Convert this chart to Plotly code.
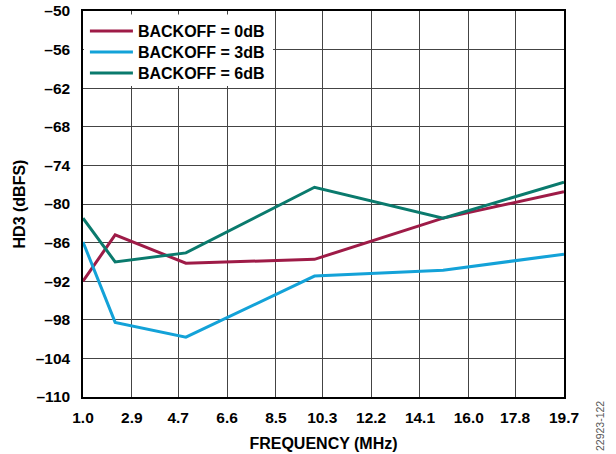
import plotly.graph_objects as go

freq = [1.0, 2.25, 5.0, 10.0, 15.0, 19.7]
backoff_0db = [-92.0, -84.8, -89.2, -88.6, -82.2, -78.1]
backoff_3db = [-85.9, -98.4, -100.7, -91.2, -90.3, -87.8]
backoff_6db = [-82.2, -89.0, -87.6, -77.4, -82.2, -76.6]
x_ticks = [1.0, 2.9, 4.7, 6.6, 8.5, 10.3, 12.2, 14.1, 16.0, 17.8, 19.7]
y_ticks = [-50, -56, -62, -68, -74, -80, -86, -92, -98, -104, -110]

series = [
    ("BACKOFF = 0dB", backoff_0db, "#9E1B47"),
    ("BACKOFF = 3dB", backoff_3db, "#13A2D8"),
    ("BACKOFF = 6dB", backoff_6db, "#0A7A6D"),
]

FAM = "Liberation Sans, Arial, sans-serif"
legend_ids = ["legend", "legend2", "legend3"]
legend_rows_y = [0.9482, 0.8938, 0.8394]

fig = go.Figure()
for (name, vals, col), lid in zip(series, legend_ids):
    fig.add_trace(go.Scatter(x=freq, y=vals, mode="lines", name=name, legend=lid,
                             line=dict(color=col, width=3)))

legend_common = dict(x=0.004, xanchor="left", yanchor="middle",
                     bgcolor="rgba(0,0,0,0)", borderwidth=0,
                     font=dict(family=FAM, size=16, color="black", weight="bold"),
                     itemwidth=43)

# white legend background panel (covers the grid behind the legend)
fig.add_shape(type="rect", xref="paper", yref="paper", x0=0.002, x1=0.395,
              y0=0.806, y1=0.991, fillcolor="white", line=dict(width=0), layer="above")

fig.update_layout(
    width=616, height=454,
    margin=dict(l=83, r=52, t=11, b=57, autoexpand=False),
    paper_bgcolor="white", plot_bgcolor="white",
    font=dict(family=FAM, size=15.5, color="black"),
    showlegend=True,
    legend=dict(y=legend_rows_y[0], **legend_common),
    legend2=dict(y=legend_rows_y[1], **legend_common),
    legend3=dict(y=legend_rows_y[2], **legend_common),
    xaxis=dict(range=[1.0, 19.7], tickvals=x_ticks,
               ticktext=[f"{v:.1f}" for v in x_ticks],
               showgrid=True, gridcolor="#444", gridwidth=1,
               showline=True, linecolor="black", linewidth=1.5, mirror=True,
               ticks="", zeroline=False, ticklabelstandoff=6,
               tickfont=dict(family=FAM, size=15.5, weight="bold"),
               title=dict(text="FREQUENCY (MHz)", font=dict(family=FAM, size=16, weight="bold"), standoff=12)),
    yaxis=dict(range=[-110, -50], tickvals=y_ticks,
               ticktext=[str(v).replace("-", "\u2013") for v in y_ticks],
               showgrid=True, gridcolor="#444", gridwidth=1,
               showline=True, linecolor="black", linewidth=1.5, mirror=True,
               ticks="", zeroline=False, ticklabelstandoff=8,
               tickfont=dict(family=FAM, size=15.5, weight="bold"),
               title=dict(text="HD3 (dBFS)", font=dict(family=FAM, size=16, weight="bold"), standoff=6)),
)
fig.add_annotation(text="22923-122", xref="paper", yref="paper", x=1.0, y=0.0,
                   xshift=36, yshift=-56, textangle=-90, showarrow=False,
                   font=dict(family=FAM, size=10.5, color="#555"), xanchor="center", yanchor="bottom")
fig.write_html("out.html", config={"displayModeBar": False},
               post_script="document.body.style.margin='0px';")
